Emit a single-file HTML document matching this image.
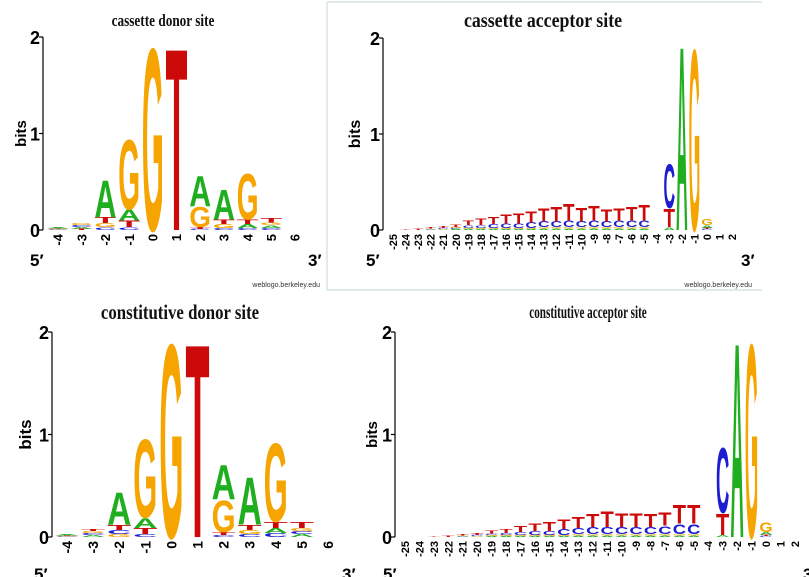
<!DOCTYPE html>
<html><head><meta charset="utf-8">
<style>
html,body{margin:0;padding:0;background:#fff;}
svg{display:block;}
</style></head>
<body>
<svg id="chart" width="809" height="577" viewBox="0 0 809 577" xmlns="http://www.w3.org/2000/svg">
<rect x="0" y="0" width="809" height="577" fill="#fff"/>
<path d="M327,2 H762 M327,2 V290 H762" stroke="#d6e6dc" stroke-width="1.5" fill="none"/>
</svg>
<script>
// ---- data: cassette donor ----
const cdPositions = ["-4","-3","-2","-1","0","1","2","3","4","5","6"];
const cdA = [0.01,0.02,0.40,0.12,0,0,0.33,0.32,0.04,0.03,0];
const cdC = [0.005,0.02,0.03,0.03,0,0,0.01,0.02,0.02,0.02,0];
const cdG = [0.005,0.02,0.04,0.75,1.97,0,0.22,0.04,0.50,0.03,0];
const cdT = [0.005,0.01,0.06,0.07,0,1.97,0.02,0.05,0.05,0.05,0];
// ---- data: cassette acceptor ----
const caPositions = ["-25","-24","-23","-22","-21","-20","-19","-18","-17","-16","-15","-14","-13","-12","-11","-10","-9","-8","-7","-6","-5","-4","-3","-2","-1","0","1","2"];
const caA = [0,0,0,0.005,0.005,0.01,0.01,0.01,0.01,0.01,0.01,0.01,0.015,0.015,0.015,0.015,0.015,0.015,0.015,0.015,0.015,0,0.03,2.0,0,0.03,0,0];
const caC = [0,0,0,0.005,0.01,0.01,0.03,0.03,0.04,0.05,0.05,0.06,0.06,0.06,0.07,0.06,0.07,0.06,0.07,0.07,0.07,0,0.48,0,0,0.01,0,0];
const caG = [0,0,0,0.005,0.005,0.01,0.01,0.01,0.01,0.01,0.01,0.01,0.015,0.015,0.015,0.015,0.015,0.015,0.015,0.015,0.015,0,0,0,1.97,0.06,0,0];
const caT = [0,0.005,0.01,0.015,0.02,0.03,0.05,0.07,0.08,0.10,0.11,0.12,0.14,0.16,0.18,0.15,0.16,0.13,0.13,0.15,0.17,0,0.20,0,0,0.01,0,0];
// ---- data: constitutive donor ----
const kdPositions = ["-4","-3","-2","-1","0","1","2","3","4","5","6"];
const kdA = [0.01,0.02,0.33,0.10,0,0,0.35,0.48,0.05,0.03,0];
const kdC = [0.005,0.02,0.04,0.03,0,0,0.02,0.03,0.04,0.03,0];
const kdG = [0.005,0.02,0.03,0.80,1.97,0,0.32,0.04,0.80,0.03,0];
const kdT = [0.005,0.02,0.05,0.06,0,1.97,0.03,0.05,0.06,0.06,0];
// ---- data: constitutive acceptor ----
const kaPositions = ["-25","-24","-23","-22","-21","-20","-19","-18","-17","-16","-15","-14","-13","-12","-11","-10","-9","-8","-7","-6","-5","-4","-3","-2","-1","0","1","2"];
const kaA = [0,0,0,0,0.005,0.005,0.01,0.01,0.01,0.01,0.01,0.01,0.015,0.015,0.015,0.015,0.015,0.015,0.015,0.015,0.015,0,0.02,1.98,0,0.03,0,0];
const kaC = [0,0,0,0,0.005,0.01,0.015,0.02,0.03,0.04,0.04,0.06,0.06,0.07,0.07,0.07,0.07,0.07,0.08,0.10,0.10,0,0.66,0,0,0.01,0,0];
const kaG = [0,0,0,0,0.005,0.005,0.01,0.01,0.01,0.01,0.01,0.01,0.015,0.015,0.015,0.015,0.015,0.015,0.015,0.015,0.015,0,0,0,1.97,0.10,0,0];
const kaT = [0,0,0.005,0.01,0.01,0.02,0.03,0.04,0.06,0.08,0.09,0.10,0.11,0.13,0.16,0.14,0.14,0.13,0.13,0.19,0.19,0,0.22,0,0,0.01,0,0];

const NS = "http://www.w3.org/2000/svg";
const svg = document.getElementById('chart');
const COLORS = {A:"#1fae1f", C:"#1c1cd0", G:"#f5a400", T:"#cc0a0a"};
const ADV = {A:0.722, C:0.722, G:0.778, T:0.611};

function mk(tag, attrs, parent){
  const e = document.createElementNS(NS, tag);
  for (const k in attrs) e.setAttribute(k, attrs[k]);
  (parent||svg).appendChild(e);
  return e;
}

function drawPanel(p){
  const g = mk('g', {});
  
  
  const yScale = v => p.y0 - v * (p.y0 - p.y2) / 2;
  const xScale = i => p.x1 + i * p.step;

  const t = mk('text', {x:0, y:0, 'font-family':'"Liberation Serif", serif', 'font-weight':'bold', 'font-size':p.titleSize, 'text-anchor':'middle', fill:'#111', transform:`translate(${p.titleX},${p.titleY}) scale(${p.titleSX},1)`}, g);
  t.textContent = p.title;
  
  

  const ax = mk('line', {x1:p.axisX, x2:p.axisX, y1:p.y0, y2:yScale(2), stroke:'#000', 'stroke-width':1.2}, g);
  
  
  [0,1,2].forEach(v=>{
    mk('line', {x1:p.axisX-4, x2:p.axisX, y1:yScale(v), y2:yScale(v), stroke:'#000', 'stroke-width':1.2}, g);
    const lt = mk('text', {x:p.axisX-3, y:yScale(v)+7, 'text-anchor':'end', 'font-family':'"Liberation Sans", sans-serif', 'font-weight':'bold', 'font-size':p.ytSize, fill:'#000'}, g);
    lt.textContent = String(v);
    
    
  });
  const bits = mk('text', {x:0, y:0, 'text-anchor':'middle', 'font-family':'"Liberation Sans", sans-serif', 'font-weight':'bold', 'font-size':p.bitsSize, fill:'#000', transform:`translate(${p.bitsX},${yScale(1)}) rotate(-90)`}, g);
  bits.textContent = 'bits';
  
  

  p.positions.forEach((lab,i)=>{
    const tx = mk('text', {x:0, y:0, 'text-anchor':'end', 'font-family':'"Liberation Sans", sans-serif', 'font-weight':'bold', 'font-size':p.xtSize, fill:'#000', transform:`translate(${xScale(i)+p.xtSize*0.36},${p.y0+4}) rotate(-90)`}, g);
    tx.textContent = lab;
    
    
  });
  const f5 = mk('text', {x:p.p5x, y:p.endY, 'font-family':'"Liberation Sans", sans-serif', 'font-weight':'bold', 'font-size':p.endSize, fill:'#000'}, g);
  f5.textContent = "5\u2032";
  
  
  const f3 = mk('text', {x:p.p3x, y:p.endY, 'font-family':'"Liberation Sans", sans-serif', 'font-weight':'bold', 'font-size':p.endSize, fill:'#000'}, g);
  f3.textContent = "3\u2032";
  
  
  if (p.credit){
    const cr = mk('text', {x:p.credit[0], y:p.credit[1], 'text-anchor':'end', 'font-family':'"Liberation Sans", sans-serif', 'font-size':7, fill:'#333'}, g);
    cr.textContent = 'weblogo.berkeley.edu';
    
    
  }

  const w = p.step * 0.92;
  p.positions.forEach((lab,i)=>{
    const col = [['A',p.A[i]],['C',p.C[i]],['G',p.G[i]],['T',p.T[i]]].filter(d=>d[1]>0).sort((a,b)=>a[1]-b[1]);
    let base = 0;
    col.forEach(([L,h])=>{
      const yb = yScale(base), yt = yScale(base+h);
      const hp = yb - yt;
      base += h;
      if (hp < 0.3) return;
      const sx = w / (ADV[L]*100), sy = hp / 72.9;
      const le = mk('text', {x:0, y:0, 'font-family':'"Liberation Sans", sans-serif', 'font-weight':'bold', 'font-size':100, fill:COLORS[L], transform:`translate(${xScale(i)-w/2},${yb}) scale(${sx},${sy})`}, g);
      le.textContent = L;
      
      
    });
  });
}

drawPanel({name:'cassette-donor-logo', title:'cassette donor site', titleX:163, titleY:26, titleSize:17, titleSX:0.78,
  axisX:43, y0:230, y2:37, x1:58, step:23.7, positions:cdPositions, A:cdA, C:cdC, G:cdG, T:cdT,
  ytSize:18, bitsSize:15, bitsX:26, xtSize:13, p5x:30, p3x:308, endY:266, endSize:17, credit:[320,287]});
drawPanel({name:'cassette-acceptor-logo', title:'cassette acceptor site', titleX:543, titleY:27, titleSize:21, titleSX:0.85,
  axisX:383, y0:230, y2:38, x1:393, step:12.56, positions:caPositions, A:caA, C:caC, G:caG, T:caT,
  ytSize:18, bitsSize:16, bitsX:360, xtSize:11, p5x:366, p3x:741, endY:266, endSize:17, credit:[752,287]});
drawPanel({name:'constitutive-donor-logo', title:'constitutive donor site', titleX:180, titleY:319, titleSize:21, titleSX:0.8,
  axisX:52, y0:537, y2:332, x1:67, step:26.1, positions:kdPositions, A:kdA, C:kdC, G:kdG, T:kdT,
  ytSize:18, bitsSize:17, bitsX:31, xtSize:14, p5x:34, p3x:342, endY:580, endSize:17});
drawPanel({name:'constitutive-acceptor-logo', title:'constitutive acceptor site', titleX:588, titleY:318, titleSize:18, titleSX:0.62,
  axisX:395, y0:537, y2:332, x1:405, step:14.44, positions:kaPositions, A:kaA, C:kaC, G:kaG, T:kaT,
  ytSize:18, bitsSize:15, bitsX:377, xtSize:11, p5x:383, p3x:803, endY:580, endSize:17});
</script>
</body></html>
